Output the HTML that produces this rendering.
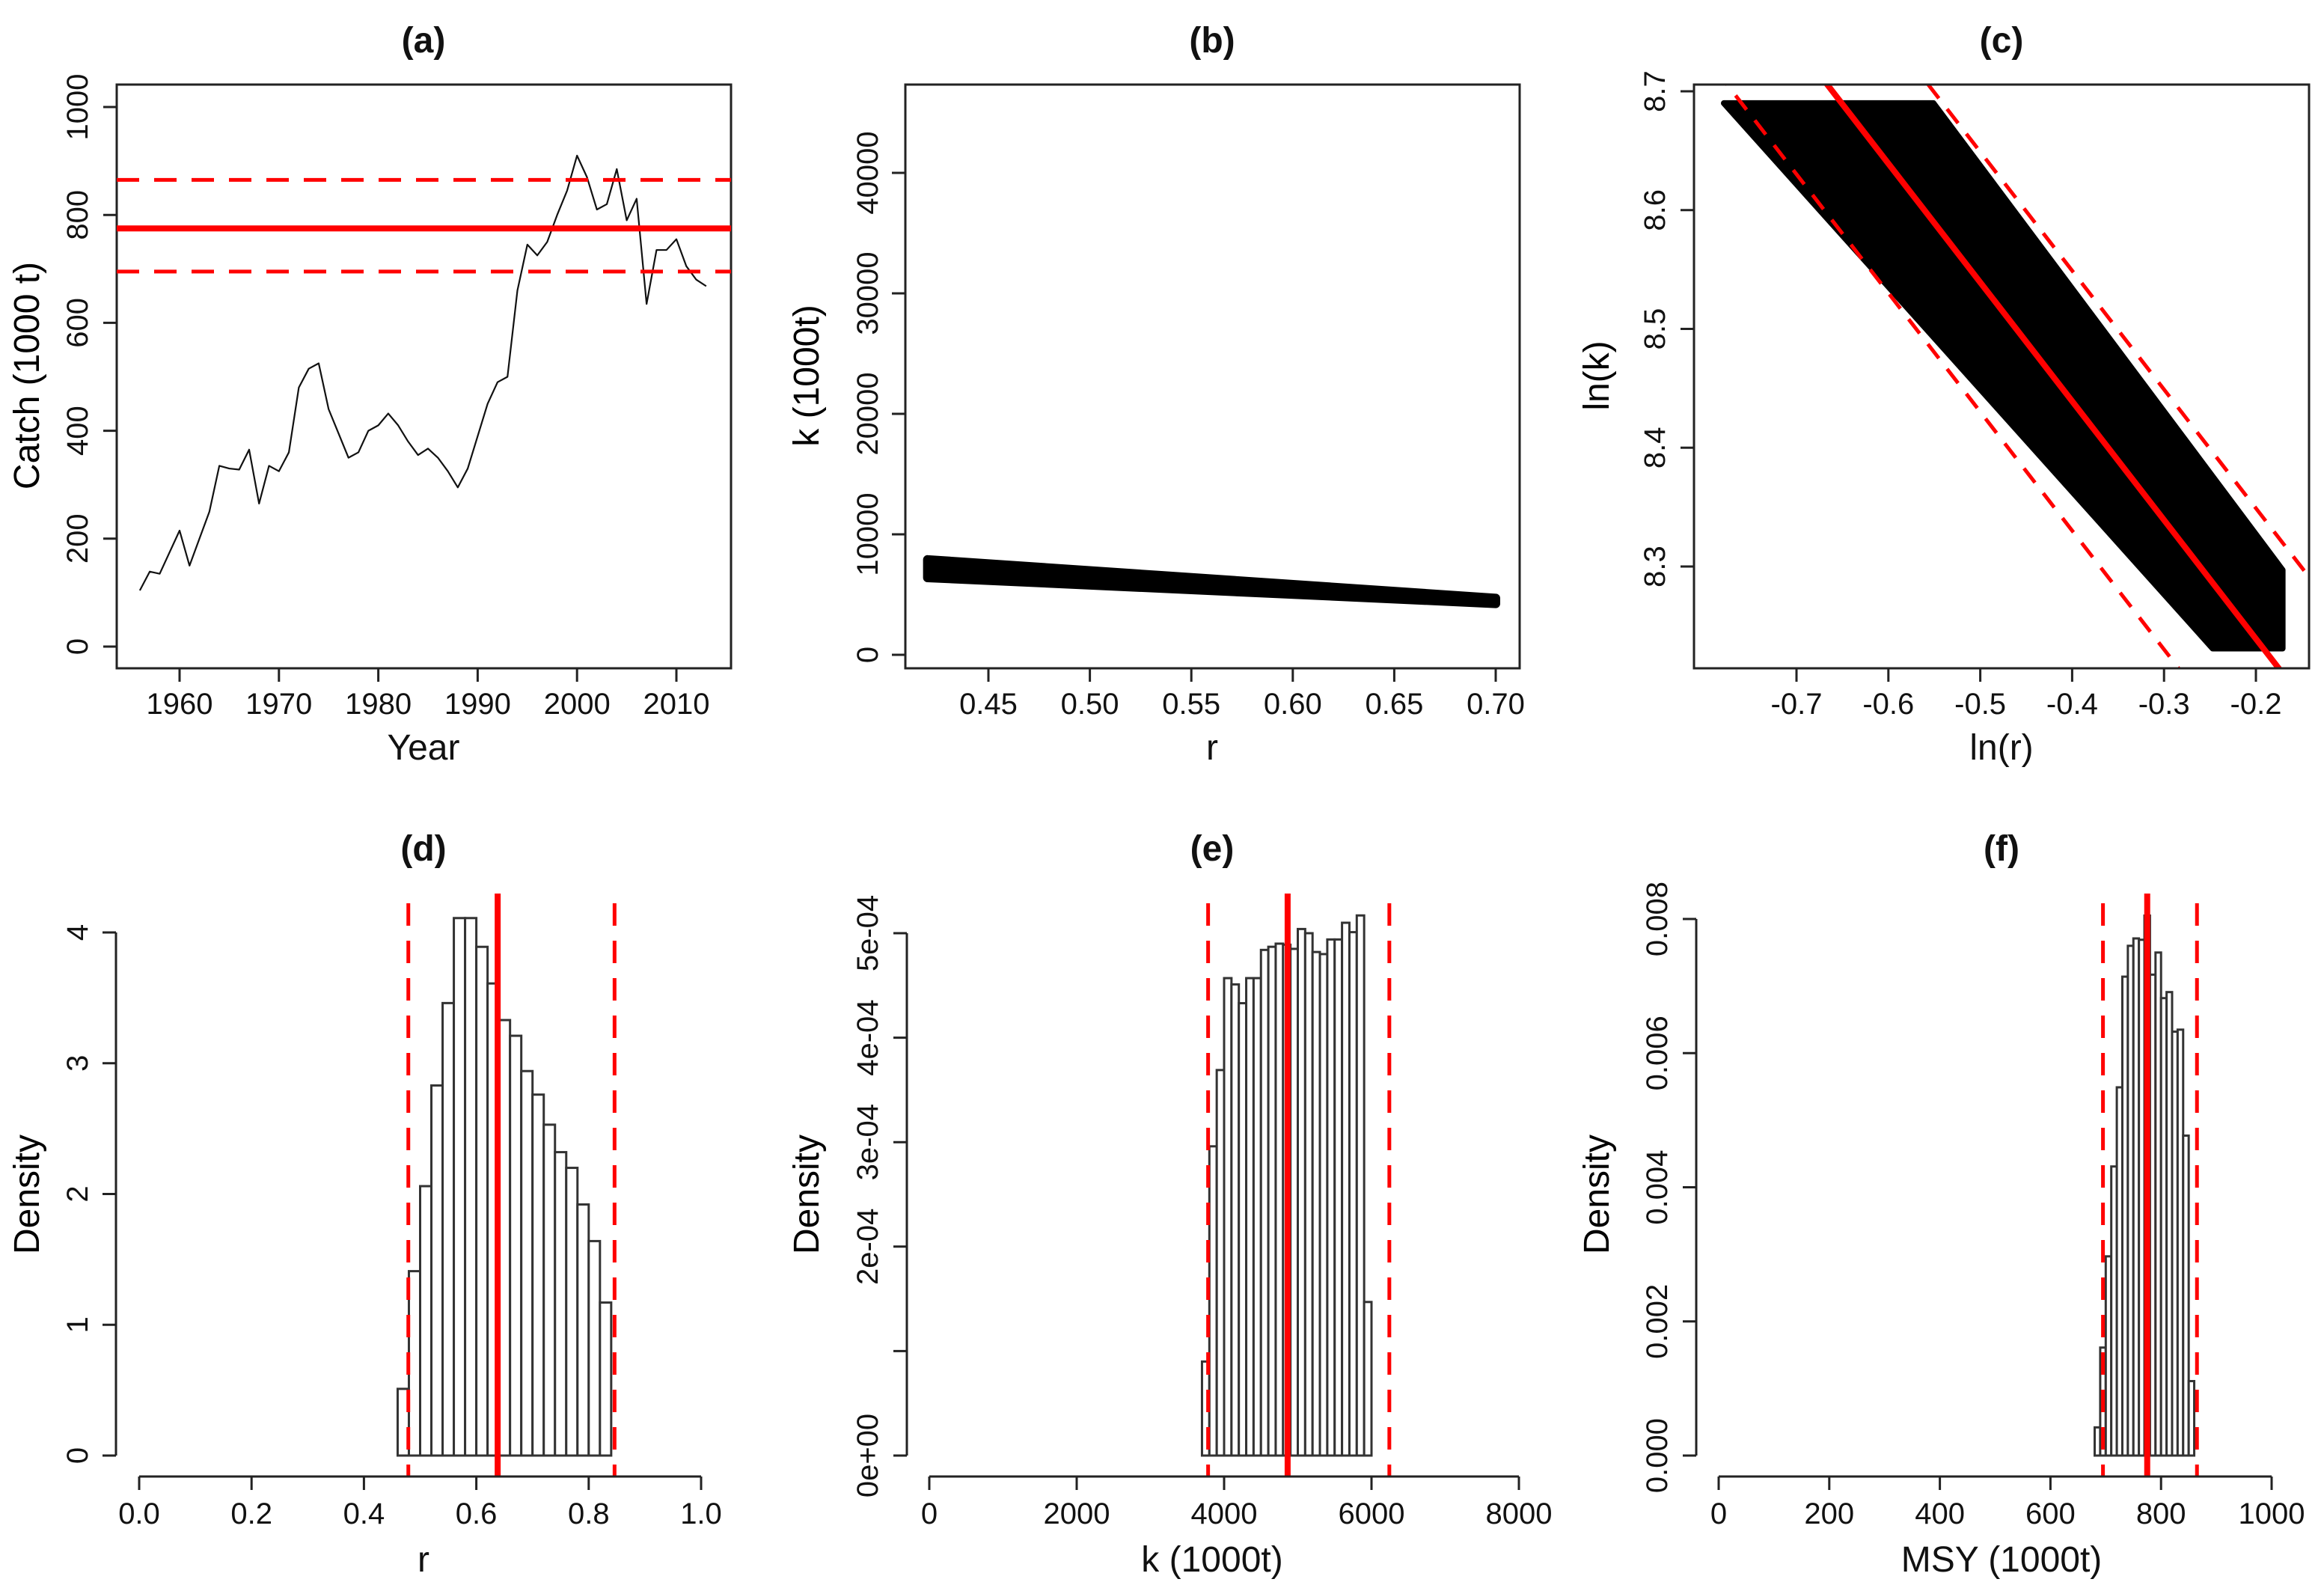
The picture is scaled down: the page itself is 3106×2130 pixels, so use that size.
<!DOCTYPE html>
<html><head><meta charset="utf-8"><title>Catch-MSY results</title>
<style>html,body{margin:0;padding:0;background:#fff}svg{display:block;font-family:"Liberation Sans",Arial,sans-serif}</style>
</head><body>
<svg id="fig" xmlns="http://www.w3.org/2000/svg" width="3106" height="2130" viewBox="0 0 3106 2130"></svg>
<script>
// ---- Panel (a) data ----
const years = [1956,1957,1958,1959,1960,1961,1962,1963,1964,1965,1966,1967,1968,1969,1970,1971,1972,1973,1974,1975,1976,1977,1978,1979,1980,1981,1982,1983,1984,1985,1986,1987,1988,1989,1990,1991,1992,1993,1994,1995,1996,1997,1998,1999,2000,2001,2002,2003,2004,2005,2006,2007,2008,2009,2010,2011,2012,2013];
const catchVals = [104,139,135,175,215,150,200,250,335,330,328,365,265,335,325,360,480,515,525,440,395,350,360,400,410,432,410,380,355,367,350,325,295,330,390,450,490,500,660,745,725,750,800,845,910,870,810,820,885,790,830,635,735,735,755,705,680,668];
const msyRef = [695,775,865]; // lower, mean, upper
const aXTicks = [1960,1970,1980,1990,2000,2010];
const aYTicks = [0,200,400,600,800,1000];
// ---- Panel (b) data ----
const bR = [0.42,0.70];
const bKUpper = [7900,4700];
const bKLower = [6400,4250];
const bXTicks = [0.45,0.50,0.55,0.60,0.65,0.70];
const bYTicks = [0,10000,20000,30000,40000];
// ---- Panel (c) data ----
const cLnR = [-0.779,-0.551,-0.171,-0.171,-0.247];
const cLnK = [8.69,8.69,8.297,8.231,8.231];
const cXTicks = [-0.7,-0.6,-0.5,-0.4,-0.3,-0.2];
const cYTicks = [8.3,8.4,8.5,8.6,8.7];
// ---- Panel (d) data ----
const dBinStart = 0.46, dBinWidth = 0.02;
const dDensity = [0.51,1.41,2.06,2.83,3.46,4.11,4.11,3.89,3.61,3.33,3.21,2.94,2.76,2.53,2.32,2.20,1.92,1.64,1.17];
const dRef = [0.479,0.638,0.846];
const dXTicks = [0,0.2,0.4,0.6,0.8,1.0];
const dYTicks = [0,1,2,3,4];
// ---- Panel (e) data ----
const eBinStart = 3700, eBinEnd = 6000;
const eDensity = [0.90,2.96,3.69,4.57,4.51,4.33,4.57,4.57,4.84,4.87,4.90,4.89,4.85,5.04,5.00,4.82,4.80,4.94,4.94,5.10,5.01,5.17,1.47]; // x1e-4
const eRef = [3783,4862,6242];
const eXTicks = [0,2000,4000,6000,8000];
const eYTicks = [0,1,2,3,4,5]; // x1e-4
const eYLabels = ["0e+00","","2e-04","3e-04","4e-04","5e-04"];
// ---- Panel (f) data ----
const fBinStart = 680, fBinWidth = 10;
const fDensity = [0.42,1.61,2.97,4.31,5.49,7.14,7.60,7.71,7.69,8.05,7.17,7.50,6.82,6.91,6.32,6.35,4.77,1.11]; // x1e-3
const fRef = [695,775,865];
const fXTicks = [0,200,400,600,800,1000];
const fYTicks = [0,2,4,6,8]; // x1e-3
const fYLabels = ["0.000","0.002","0.004","0.006","0.008"];

const NS = "http://www.w3.org/2000/svg";
const svg = document.getElementById('fig');
function lin(d0,d1,p0,p1){return v => p0 + (v-d0)*(p1-p0)/(d1-d0);}
function mk(tag, attrs, parent, name, inter){
  const el = document.createElementNS(NS, tag);
  for (const k in attrs) el.setAttribute(k, attrs[k]);
  
  
  (parent||svg).appendChild(el);
  return el;
}
function txt(s, x, y, size, name, opts){
  opts = opts || {};
  const a = {x:x, y:y, 'font-size':size, 'text-anchor':'middle', fill: opts.fill || '#111'};
  if (opts.bold) a['font-weight'] = 'bold';
  if (opts.rot) a.transform = 'rotate(-90 '+x+' '+y+')';
  const t = mk('text', a, opts.parent, name, false);
  t.textContent = s;
  return t;
}
const LS = 40, TS = 48, HS = 48;

function xAxisTicks(g, ticks, sx, yLine, labelY, fmt, prefix, drawLine){
  if (drawLine) mk('line',{x1:sx(ticks[0]),x2:sx(ticks[ticks.length-1]),y1:yLine,y2:yLine,stroke:'#222','stroke-width':3},g,prefix+'-x-axis-line',false);
  ticks.forEach((t,i)=>{
    const x = sx(t);
    mk('line',{x1:x,x2:x,y1:yLine,y2:yLine+18,stroke:'#222','stroke-width':3},g,prefix+'-x-tick',false);
    txt(fmt(t,i), x, labelY, LS, prefix+'-x-tick-label', {parent:g});
  });
}
function yAxisTicks(g, ticks, sy, xLine, labelX, fmt, prefix, drawLine){
  if (drawLine) mk('line',{x1:xLine,x2:xLine,y1:sy(ticks[0]),y2:sy(ticks[ticks.length-1]),stroke:'#222','stroke-width':3},g,prefix+'-y-axis-line',false);
  ticks.forEach((t,i)=>{
    const y = sy(t);
    mk('line',{x1:xLine,x2:xLine-18,y1:y,y2:y,stroke:'#222','stroke-width':3},g,prefix+'-y-tick',false);
    const s = fmt(t,i);
    if (s !== '') txt(s, labelX, y, LS, prefix+'-y-tick-label', {parent:g, rot:true, fill:'#111'}).setAttribute('dominant-baseline','central');
  });
}
function box(g, x0,x1,y0,y1,prefix){
  mk('rect',{x:x0,y:y0,width:x1-x0,height:y1-y0,fill:'none',stroke:'#222','stroke-width':3},g,prefix+'-plot-frame',false);
}
function clip(id,x0,x1,y0,y1){
  let defs = svg.querySelector('defs');
  if(!defs){defs = mk('defs',{},svg,'defs',false);}
  const c = mk('clipPath',{id:id},defs,'clip-'+id,false);
  mk('rect',{x:x0,y:y0,width:x1-x0,height:y1-y0},c,'clip-rect',false);
}
const RED = '#ff0000';

// ================= Panel (a) =================
(function(){
  const g = mk('g',{},svg,'panel-a-catch-series',false);
  const X0=156,X1=977,Y0=113,Y1=893;
  const sx = lin(1960,2010,240,904), sy = lin(0,1000,864,143);
  clip('ca',X0,X1,Y0,Y1);
  txt('(a)', 566, 70, HS, 'panel-a-title', {parent:g,bold:true});
  box(g,X0,X1,Y0,Y1,'panel-a');
  xAxisTicks(g, aXTicks, sx, Y1, 954, t=>String(t), 'panel-a', false);
  yAxisTicks(g, aYTicks, sy, X0, 104, t=>String(t), 'panel-a', false);
  txt('Year', 566, 1015, TS, 'panel-a-x-axis-title', {parent:g});
  txt('Catch (1000 t)', 52, 502, TS, 'panel-a-y-axis-title', {parent:g, rot:true, fill:'#000'});
  const cg = mk('g',{'clip-path':'url(#ca)'},g,'panel-a-data-area',false);
  const pts = years.map((y,i)=>sx(y)+','+sy(catchVals[i])).join(' ');
  mk('polyline',{points:pts,fill:'none',stroke:'#111','stroke-width':2.2,'stroke-linejoin':'round'},cg,'catch-line',false);
  msyRef.forEach((v,i)=>{
    const solid = i===1;
    mk('line',{x1:X0,x2:X1,y1:sy(v),y2:sy(v),stroke:RED,'stroke-width':solid?8:5,'stroke-dasharray':solid?'none':'30 20'},cg,solid?'msy-mean-line':(i===0?'msy-lower-line':'msy-upper-line'),false);
  });
})();

// ================= Panel (b) =================
(function(){
  const g = mk('g',{},svg,'panel-b-r-k-scatter',false);
  const X0=1210,X1=2031,Y0=113,Y1=893;
  const sx = lin(0.45,0.70,1321,1999), sy = lin(0,40000,875,231);
  txt('(b)', 1620, 70, HS, 'panel-b-title', {parent:g,bold:true});
  box(g,X0,X1,Y0,Y1,'panel-b');
  xAxisTicks(g, bXTicks, sx, Y1, 954, t=>t.toFixed(2), 'panel-b', false);
  yAxisTicks(g, bYTicks, sy, X0, 1160, t=>String(t), 'panel-b', false);
  txt('r', 1620, 1015, TS, 'panel-b-x-axis-title', {parent:g});
  txt('k (1000t)', 1094, 502, TS, 'panel-b-y-axis-title', {parent:g, rot:true, fill:'#000'});
  const pts = [];
  bR.forEach((r,i)=>pts.push(sx(r)+','+sy(bKUpper[i])));
  for(let i=bR.length-1;i>=0;i--) pts.push(sx(bR[i])+','+sy(bKLower[i]));
  mk('polygon',{points:pts.join(' '),fill:'#000',stroke:'#000','stroke-width':12,'stroke-linejoin':'round'},g,'r-k-point-cloud',false);
})();

// ================= Panel (c) =================
(function(){
  const g = mk('g',{},svg,'panel-c-log-scatter',false);
  const X0=2264,X1=3086,Y0=113,Y1=893;
  const sx = lin(-0.7,-0.2,2401,3015), sy = lin(8.3,8.7,757,122);
  clip('cc',X0,X1,Y0,Y1);
  txt('(c)', 2675, 70, HS, 'panel-c-title', {parent:g,bold:true});
  xAxisTicks(g, cXTicks, sx, Y1, 954, t=>t.toFixed(1), 'panel-c', false);
  yAxisTicks(g, cYTicks, sy, X0, 2212, t=>t.toFixed(1), 'panel-c', false);
  txt('ln(r)', 2675, 1015, TS, 'panel-c-x-axis-title', {parent:g});
  txt('ln(k)', 2150, 502, TS, 'panel-c-y-axis-title', {parent:g, rot:true, fill:'#000'});
  const cg = mk('g',{'clip-path':'url(#cc)'},g,'panel-c-data-area',false);
  const pts = cLnR.map((r,i)=>sx(r)+','+sy(cLnK[i])).join(' ');
  mk('polygon',{points:pts,fill:'#000',stroke:'#000','stroke-width':8,'stroke-linejoin':'round'},cg,'lnr-lnk-point-cloud',false);
  msyRef.forEach((m,i)=>{
    const a = Math.log(4*m);
    const r0=-0.85, r1=-0.1;
    const solid = i===1;
    mk('line',{x1:sx(r0),y1:sy(a-r0),x2:sx(r1),y2:sy(a-r1),stroke:RED,'stroke-width':solid?8:5,'stroke-dasharray':solid?'none':'24 18'},cg,solid?'msy-mean-isoline':(i===0?'msy-lower-isoline':'msy-upper-isoline'),false);
  });
  box(g,X0,X1,Y0,Y1,'panel-c');
})();

// ================= Histograms =================
const AXY = 1973;
function hist(cfg){
  const g = mk('g',{},svg,cfg.prefix+'-histogram',false);
  txt(cfg.title, cfg.cx, 1150, HS, cfg.prefix+'-title', {parent:g,bold:true});
  const n = cfg.dens.length;
  for(let i=0;i<n;i++){
    const a = cfg.start + i*cfg.width, b = a + cfg.width;
    const x0 = cfg.sx(a), x1 = cfg.sx(b), y = cfg.sy(cfg.dens[i]), yb = cfg.sy(0);
    mk('rect',{x:x0,y:y,width:x1-x0,height:yb-y,fill:'#fff',stroke:'#333','stroke-width':3},g,cfg.prefix+'-bar',false);
  }
  cfg.ref.forEach((v,i)=>{
    const solid = i===1;
    mk('line',{x1:cfg.sx(v),x2:cfg.sx(v),y1:solid?1194:1207,y2:AXY,stroke:RED,'stroke-width':solid?8:5,'stroke-dasharray':solid?'none':'30 20'},g,solid?cfg.prefix+'-mean-line':(i===0?cfg.prefix+'-lower-line':cfg.prefix+'-upper-line'),false);
  });
  xAxisTicks(g, cfg.xt, cfg.sx, AXY, 2036, cfg.xf, cfg.prefix, true);
  yAxisTicks(g, cfg.yt, cfg.sy, cfg.yax, cfg.ylx, cfg.yf, cfg.prefix, true);
  txt(cfg.xlab, cfg.cx, 2100, TS, cfg.prefix+'-x-axis-title', {parent:g});
  txt('Density', cfg.ytx, 1596, TS, cfg.prefix+'-y-axis-title', {parent:g, rot:true, fill:'#000'});
}
hist({prefix:'panel-d', title:'(d)', cx:566, xlab:'r', start:dBinStart, width:dBinWidth, dens:dDensity, ref:dRef,
  sx:lin(0,1,186,937), sy:lin(0,4,1945,1246), xt:dXTicks, yt:dYTicks, xf:t=>t.toFixed(1), yf:t=>String(t), yax:155, ylx:104, ytx:52});
hist({prefix:'panel-e', title:'(e)', cx:1620, xlab:'k (1000t)', start:eBinStart, width:(eBinEnd-eBinStart)/eDensity.length, dens:eDensity, ref:eRef,
  sx:lin(0,8000,1242,2030), sy:lin(0,5,1945,1247), xt:eXTicks, yt:eYTicks, xf:t=>String(t), yf:(t,i)=>eYLabels[i], yax:1212, ylx:1160, ytx:1094});
hist({prefix:'panel-f', title:'(f)', cx:2675, xlab:'MSY (1000t)', start:fBinStart, width:fBinWidth, dens:fDensity, ref:fRef,
  sx:lin(0,1000,2297,3036), sy:lin(0,8,1945,1228), xt:fXTicks, yt:fYTicks, xf:t=>String(t), yf:(t,i)=>fYLabels[i], yax:2267, ylx:2215, ytx:2150});
</script>
</body></html>
